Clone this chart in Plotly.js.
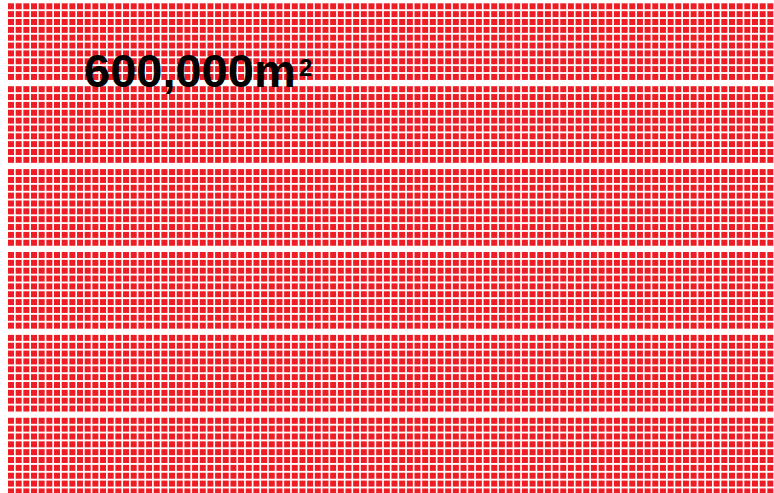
<!DOCTYPE html>
<html>
<head>
<meta charset="utf-8">
<script src="https://cdn.plot.ly/plotly-3.0.1.min.js"></script>
<style>
  html, body { margin: 0; padding: 0; background: #ffffff; }
  #chart { width: 774px; height: 493px; }
</style>
</head>
<body>
<div id="chart"></div>
<script>
// ---- data ----
const totalAreaM2 = 600000;      // total area shown
const areaPerSquareM2 = 100;     // each small square = 100 m²
const squaresPerRow = 100;       // columns in the waffle
const rowsPerBlock = 10;         // rows in each horizontal block
const labelMain = '600,000m';
const labelSup = '2';

// ---- build waffle cells from the data ----
const squareCount = totalAreaM2 / areaPerSquareM2;
const blockGap = 0.56; // extra spacing between blocks, in row units
const xs = [], ys = [];
for (let i = 0; i < squareCount; i++) {
  const col = i % squaresPerRow;
  const row = Math.floor(i / squaresPerRow);
  const block = Math.floor(row / rowsPerBlock);
  xs.push(col);
  ys.push(row + block * blockGap);
}

const W = 774, H = 493;
const colPitch = 7.67, rowPitch = 7.85;
const x0 = -11 / colPitch;
const y0 = -6.3 / rowPitch;

const trace = {
  type: 'scatter',
  mode: 'markers',
  x: xs,
  y: ys,
  marker: { symbol: 'square', size: 6, color: '#ee1c25', line: { width: 0 } },
  hoverinfo: 'skip'
};

const layout = {
  width: W,
  height: H,
  margin: { l: 0, r: 0, t: 0, b: 0 },
  paper_bgcolor: '#ffffff',
  plot_bgcolor: '#ffffff',
  showlegend: false,
  xaxis: { range: [x0, x0 + W / colPitch], visible: false, fixedrange: true },
  yaxis: { range: [y0 + H / rowPitch, y0], visible: false, fixedrange: true },
  annotations: [
    {
      xref: 'paper', yref: 'paper',
      x: 83 / W, y: 1 - 98 / H,
      xanchor: 'left', yanchor: 'bottom',
      text: '<b>' + labelMain + '</b>',
      showarrow: false, borderpad: 0,
      font: { family: 'Liberation Sans, Arial, sans-serif', size: 47, color: '#000000' }
    },
    {
      xref: 'paper', yref: 'paper',
      x: 298 / W, y: 1 - 82 / H,
      xanchor: 'left', yanchor: 'bottom',
      text: '<b>' + labelSup + '</b>',
      showarrow: false, borderpad: 0,
      font: { family: 'Liberation Sans, Arial, sans-serif', size: 24, color: '#000000' }
    }
  ]
};

Plotly.newPlot('chart', [trace], layout, { staticPlot: true, displayModeBar: false });
</script>
</body>
</html>
